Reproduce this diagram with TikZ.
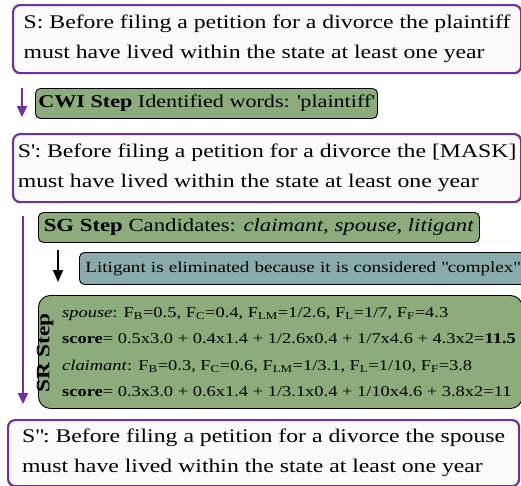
\documentclass[tikz,border=0pt]{standalone}
\usepackage{fontspec}
\setmainfont{LiberationSerif}[Extension=.ttf,UprightFont=*-Regular,BoldFont=*-Bold,ItalicFont=*-Italic,BoldItalicFont=*-BoldItalic,FakeStretch=1.23]
\usepackage{tikz}
\usetikzlibrary{positioning,arrows.meta}
\definecolor{sentpurple}{RGB}{112,48,160}
\definecolor{stepgreen}{RGB}{140,173,123}
\definecolor{stepteal}{RGB}{138,171,171}
\definecolor{sentfill}{RGB}{251,251,251}

\begin{document}
\begin{tikzpicture}[x=1pt,y=-1pt,
    sentence/.style={draw=sentpurple,line width=2.2pt,fill=sentfill,rounded corners=7pt,anchor=north west,align=left,inner sep=0pt,font=\fontsize{19.3}{30}\selectfont},
    stepbox/.style={draw=black,line width=0.9pt,fill=stepgreen,rounded corners=5pt,anchor=north west,inner sep=0pt},
    flow/.style={draw=sentpurple,line width=2.2pt,-{Triangle[length=11pt,width=10pt]}},
    substep/.style={draw=black,line width=1.8pt,-{Triangle[length=12pt,width=10pt]}}]
    \clip (0,0) rectangle (521,485);
    \node[sentence,minimum width=508,minimum height=68](S) at (12,4){S: Before filing a petition for a divorce the plaintiff\\must have lived within the state at least one year};
    \node[stepbox,minimum width=342,minimum height=30,font=\fontsize{18}{22}\selectfont](cwi) at (35,88){\textbf{CWI Step} Identified words: \textquotesingle plaintiff\textquotesingle};
    \node[sentence,minimum width=508,minimum height=68](Sp) at (12,133){S\textquotesingle: Before filing a petition for a divorce the [MASK]\\must have lived within the state at least one year};
    \node[stepbox,minimum width=441,minimum height=30,font=\fontsize{18.5}{22}\selectfont](sg) at (38,212){\textbf{SG Step} Candidates: \textit{claimant}, \textit{spouse}, \textit{litigant}};
    \node[stepbox,fill=stepteal,text width=446,inner xsep=6pt,align=left,minimum height=32,font=\fontsize{15.5}{19}\selectfont](lit) at (79,252){Litigant is eliminated because it is considered \textquotedbl complex\textquotedbl};
    \node[stepbox,rounded corners=12pt,minimum width=484,minimum height=113](srbox) at (38,295){};
    \node[right=24pt of srbox.west,inner sep=0pt,align=left,font=\fontsize{15}{26.5}\selectfont](srtext){\textit{spouse}: F\textsubscript{B}=0.5, F\textsubscript{C}=0.4, F\textsubscript{LM}=1/2.6, F\textsubscript{L}=1/7, F\textsubscript{F}=4.3\\
      \textbf{score}= 0.5x3.0 + 0.4x1.4 + 1/2.6x0.4 + 1/7x4.6 + 4.3x2=\textbf{11.5}\\
      \textit{claimant}: F\textsubscript{B}=0.3, F\textsubscript{C}=0.6, F\textsubscript{LM}=1/3.1, F\textsubscript{L}=1/10, F\textsubscript{F}=3.8\\
      \textbf{score}= 0.3x3.0 + 0.6x1.4 + 1/3.1x0.4 + 1/10x4.6 + 3.8x2=11};
    \node[rotate=90,inner sep=0pt,font=\bfseries\fontsize{19}{19}\selectfont](srlabel) at (45,353){SR Step};
    \node[sentence,minimum width=511,minimum height=66](Spp) at (7,419){S\textquotedbl: Before filing a petition for a divorce the spouse\\must have lived within the state at least one year};
    \coordinate (cwiTop) at (22,88);
    \coordinate (cwiEnd) at (22,117);
    \coordinate (sgTop) at (23,216);
    \coordinate (srEnd) at (23,404);
    \coordinate (litTop) at (58,250);
    \coordinate (litEnd) at (58,282);
    \draw[flow] (cwiTop) -- (cwiEnd);
    \draw[flow] (sgTop) -- (srEnd);
    \draw[substep] (litTop) -- (litEnd);
\end{tikzpicture}
\end{document}
